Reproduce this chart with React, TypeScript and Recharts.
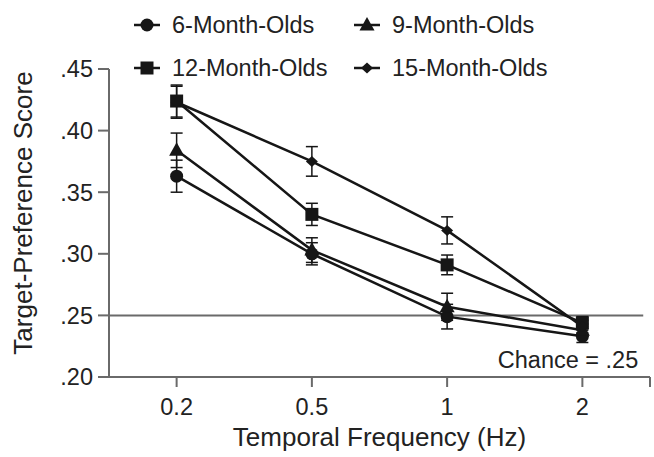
import React from 'react';
import { LineChart, Line, XAxis, YAxis, ErrorBar, ReferenceLine } from 'recharts';

const categories = ['0.2', '0.5', '1', '2'];
const yTicks = [0.2, 0.25, 0.3, 0.35, 0.4, 0.45];

const m6 = [0.363, 0.3, 0.249, 0.233];
const err6 = [0.013, 0.009, 0.01, 0.005];
const m9 = [0.384, 0.303, 0.257, 0.238];
const err9 = [0.014, 0.01, 0.011, 0.005];
const m12 = [0.424, 0.332, 0.291, 0.244];
const err12 = [0.013, 0.009, 0.008, 0.005];
const m15 = [0.423, 0.375, 0.319, 0.241];
const err15 = [0.013, 0.012, 0.011, 0.005];

const chance = 0.25;

const data = categories.map((label, i) => ({
  x: i,
  label,
  m6: m6[i],
  e6: err6[i],
  m9: m9[i],
  e9: err9[i],
  m12: m12[i],
  e12: err12[i],
  m15: m15[i],
  e15: err15[i]
}));

const INK = '#161616';
const AXIS = '#6a6a6a';
const FONT = '"Liberation Sans", Arial, Helvetica, sans-serif';

type Shape = 'circle' | 'triangle' | 'square' | 'diamond';

const Marker = ({ cx, cy, shape }: { cx: number; cy: number; shape: Shape }) => {
  if (shape === 'circle') return <circle cx={cx} cy={cy} r={6.5} fill={INK} />;
  if (shape === 'triangle')
    return <polygon points={`${cx},${cy - 8} ${cx - 7.5},${cy + 5.5} ${cx + 7.5},${cy + 5.5}`} fill={INK} />;
  if (shape === 'square') return <rect x={cx - 6.5} y={cy - 6.5} width={13} height={13} fill={INK} />;
  return <polygon points={`${cx},${cy - 5.5} ${cx + 6},${cy} ${cx},${cy + 5.5} ${cx - 6},${cy}`} fill={INK} />;
};

const series: { key: string; err: string; name: string; shape: Shape }[] = [
  { key: 'm6', err: 'e6', name: '6-Month-Olds', shape: 'circle' },
  { key: 'm9', err: 'e9', name: '9-Month-Olds', shape: 'triangle' },
  { key: 'm12', err: 'e12', name: '12-Month-Olds', shape: 'square' },
  { key: 'm15', err: 'e15', name: '15-Month-Olds', shape: 'diamond' }
];

const fmtY = (v: number) => v.toFixed(2).replace(/^0/, '');

const App: React.FC = () => {
  return (
    <div style={{ position: 'relative', width: 654, height: 457, fontFamily: FONT, color: '#222', background: '#fff' }}>
      <style>{'body{margin:0}'}</style>

      {/* legend, 2 x 2 */}
      {series.map((s, i) => (
        <div
          key={s.key}
          style={{
            position: 'absolute',
            left: i % 2 === 0 ? 134 : 354,
            top: i < 2 ? 10 : 53,
            display: 'flex',
            alignItems: 'center',
            height: 30,
            fontSize: 23.5,
            whiteSpace: 'nowrap'
          }}
        >
          <svg width={26} height={20} style={{ marginRight: 12 }}>
            <line x1={0} y1={10} x2={26} y2={10} stroke={INK} strokeWidth={2.5} />
            <Marker cx={13} cy={10} shape={s.shape} />
          </svg>
          <span>{s.name}</span>
        </div>
      ))}

      <LineChart width={654} height={457} data={data} margin={{ top: 69, right: 4, left: 0, bottom: 0 }}>
        <XAxis
          dataKey="x"
          type="number"
          domain={[-0.5, 3.5]}
          ticks={[0, 1, 2, 3, 3.5]}
          interval={0}
          tickFormatter={(v: number) => categories[v] ?? ''}
          height={80}
          stroke={AXIS}
          strokeWidth={2}
          tickSize={10}
          tickMargin={11}
          tick={{ fill: '#222', fontSize: 23.5 }}
          label={{ value: 'Temporal Frequency (Hz)', position: 'insideBottom', offset: 11, fill: '#222', fontSize: 26 }}
        />
        <YAxis
          type="number"
          domain={[0.2, 0.45]}
          ticks={yTicks}
          interval={0}
          tickFormatter={fmtY}
          width={109}
          stroke={AXIS}
          strokeWidth={2}
          tickSize={11}
          tickMargin={5}
          tick={{ fill: '#222', fontSize: 23.5 }}
          label={{
            value: 'Target-Preference Score',
            angle: -90,
            position: 'insideLeft',
            offset: 23,
            dy: -10,
            fill: '#222',
            fontSize: 26,
            style: { textAnchor: 'middle' }
          }}
        />
        <ReferenceLine
          segment={[
            { x: -0.5, y: chance },
            { x: 3.45, y: chance }
          ]}
          stroke={AXIS}
          strokeWidth={2}
          label={{
            content: (p: any) => (
              <text
                x={p.viewBox.x + p.viewBox.width - 5}
                y={p.viewBox.y + 53}
                textAnchor="end"
                fill="#222"
                fontSize={23.5}
                fontFamily={FONT}
              >
                Chance = .25
              </text>
            )
          }}
        />
        {series.map((s) => (
          <Line
            key={s.key}
            dataKey={s.key}
            name={s.name}
            type="linear"
            stroke={INK}
            strokeWidth={2.5}
            isAnimationActive={false}
            dot={(p: any) => <Marker key={`${s.key}-${p.index}`} cx={p.cx} cy={p.cy} shape={s.shape} />}
            activeDot={false}
          >
            <ErrorBar dataKey={s.err} direction="y" width={6} stroke={INK} strokeWidth={1.5} isAnimationActive={false} />
          </Line>
        ))}
      </LineChart>
    </div>
  );
};

export default App;
